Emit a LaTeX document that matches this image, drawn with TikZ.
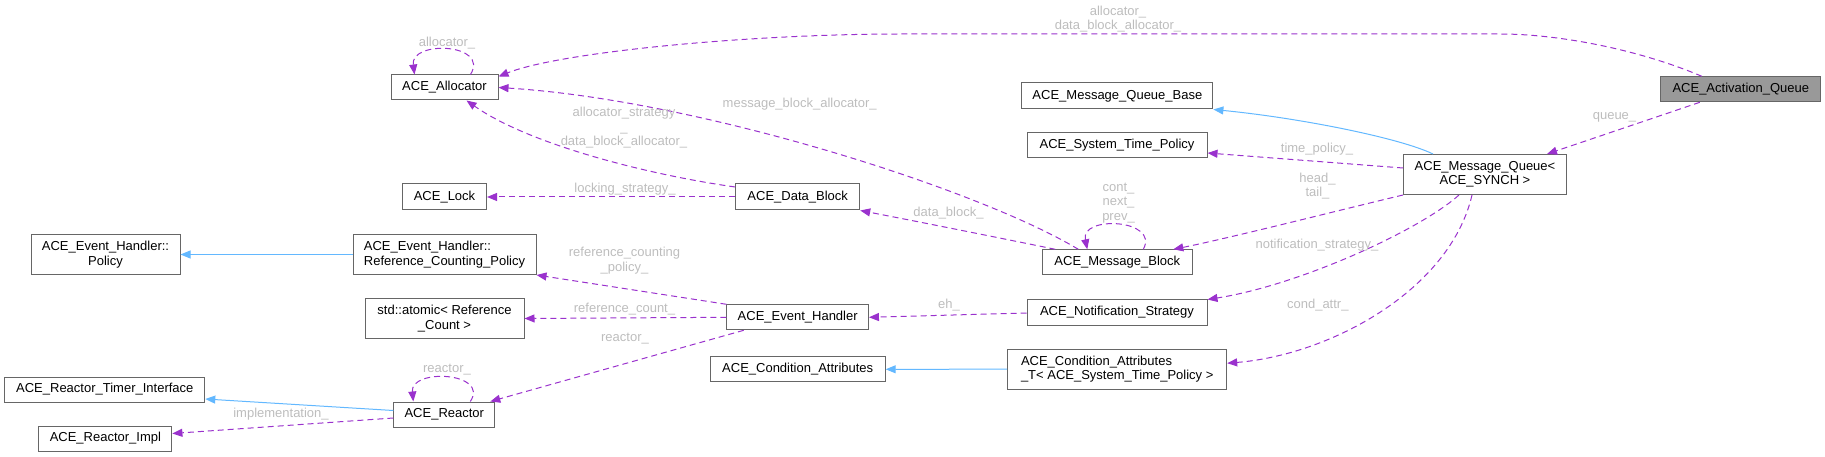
\documentclass[tikz,border=0pt]{standalone}
\usepackage{fontspec}
\setmainfont{Liberation Sans}
\usetikzlibrary{arrows.meta}
\definecolor{edgepurple}{HTML}{9A32CD}
\definecolor{edgeblue}{HTML}{63B8FF}
\definecolor{boxline}{HTML}{666666}
\definecolor{labelgray}{HTML}{BDBDBD}
\definecolor{activegray}{HTML}{999999}

\begin{document}
\begin{tikzpicture}
  [x=1pt,y=-1pt,every node/.style={font=\fontsize{13}{14.5}\selectfont,inner sep=0pt},
   cls/.style={draw=boxline,line width=1pt,fill=white,align=center,minimum height=25},
   tall/.style={cls,minimum height=40},
   lbl/.style={text=labelgray,align=center},
   member/.style={draw=edgepurple,line width=1pt,dash pattern=on 6pt off 4pt,-{Triangle[length=10pt,width=8pt]}},
   inherit/.style={draw=edgeblue,line width=1pt,-{Triangle[length=10pt,width=8pt]}}]
  \useasboundingbox (0,0) rectangle (1825,457);

  \node[cls,minimum width=107] (alloc) at (444.5,87.5) {ACE\_Allocator};
  \node[cls,minimum width=84,minimum height=26] (lock) at (444.5,197) {ACE\_Lock};
  \node[tall,minimum width=149] (policy) at (105.5,254.5) {ACE\_Event\_Handler::\\Policy};
  \node[tall,minimum width=183,align=left] (rcp) at (444.5,254.5) {ACE\_Event\_Handler::\\Reference\_Counting\_Policy};
  \node[tall,minimum width=159] (atomic) at (444.5,318.5) {std::atomic< Reference\\\_Count >};
  \node[cls,minimum width=200] (rti) at (104.8,389.5) {ACE\_Reactor\_Timer\_Interface};
  \node[cls,minimum width=101] (reactor) at (444.3,414.5) {ACE\_Reactor};
  \node[cls,minimum width=133] (impl) at (105.4,438.5) {ACE\_Reactor\_Impl};
  \node[cls,minimum width=191,minimum height=26] (mqbase) at (1117.4,96) {ACE\_Message\_Queue\_Base};
  \node[cls,minimum width=180] (stp) at (1117,145.5) {ACE\_System\_Time\_Policy};
  \node[cls,minimum width=124,minimum height=26] (dblock) at (797.7,197) {ACE\_Data\_Block};
  \node[cls,minimum width=150] (mblock) at (1117.3,262.3) {ACE\_Message\_Block};
  \node[cls,minimum width=141.5] (ehandler) at (797.7,317.3) {ACE\_Event\_Handler};
  \node[cls,minimum width=180,minimum height=26] (notify) at (1117,312) {ACE\_Notification\_Strategy};
  \node[cls,minimum width=175] (condattr) at (797.7,369.3) {ACE\_Condition\_Attributes};
  \node[tall,minimum width=219,align=left] (condattrt) at (1117.2,369.2) {ACE\_Condition\_Attributes\\\_T< ACE\_System\_Time\_Policy >};
  \node[tall,minimum width=163] (mqueue) at (1485,174.5) {ACE\_Message\_Queue<\\ACE\_SYNCH >};
  \node[cls,minimum width=160,fill=activegray] (actq) at (1740.8,89.3) {ACE\_Activation\_Queue};

  % member edges
  \draw[member] ([xshift=-39]actq.north) .. controls (1640,50) and (1560,34) .. (1500,34) -- (900,34) .. controls (750,34) and (560,52) .. ([yshift=-2]alloc.north east);
  \draw[member] ([xshift=-41]actq.south) -- ([xshift=62]mqueue.north);
  \draw[member] ([yshift=6.5]mqueue.west) -- ([yshift=-7.5]stp.east);
  \draw[member] (mqueue.south west) .. controls (1340,210) and (1230,238) .. ([xshift=56]mblock.north);
  \draw[member] ([xshift=-26]mqueue.south) .. controls (1420,230) and (1300,285) .. ([yshift=-1]notify.north east);
  \draw[member] ([xshift=-13]mqueue.south) .. controls (1450,290) and (1330,355) .. ([yshift=6]condattrt.east);
  \draw[member] ([yshift=-1]notify.west) -- (ehandler.east);
  \draw[member] ([xshift=26]mblock.north) .. controls (1160,219) and (1080,215) .. ([xshift=-30]mblock.north);
  \draw[member] ([xshift=-62]mblock.north) .. controls (1000,238) and (920,222) .. (dblock.south east);
  \draw[member] ([xshift=-39]mblock.north) .. controls (980,190) and (700,100) .. (alloc.east);
  \draw[member] ([yshift=10]dblock.west) .. controls (650,175) and (530,145) .. ([xshift=22]alloc.south);
  \draw[member] ([xshift=26]alloc.north) .. controls (490,43) and (410,40) .. ([xshift=-30]alloc.north);
  \draw[member] ([xshift=26]reactor.north) .. controls (490,372) and (410,368) .. ([xshift=-31]reactor.north);
  \draw[member] ([xshift=-54]ehandler.south) -- ([xshift=46]reactor.north);
  \draw[member] ([yshift=-3.5]reactor.west) -- ([yshift=5]impl.east);
  \foreach \from/\to in {dblock.west/lock.east,ehandler.north west/rcp.south east,ehandler.west/atomic.east}
    \draw[member] (\from) -- (\to);

  % inheritance
  \draw[inherit] ([xshift=-52]mqueue.north) .. controls (1400,138) and (1300,118) .. (mqbase.south east);
  \draw[inherit] ([yshift=4]reactor.west) -- ([yshift=-9.5]rti.east);
  \foreach \from/\to in {condattrt.west/condattr.east,rcp.west/policy.east}
    \draw[inherit] (\from) -- (\to);

  % labels
  \node[lbl] (lalloc) at (1118,19) {allocator\_\\data\_block\_allocator\_};
  \node[lbl] (lqueue) at (1614.5,117) {queue\_};
  \node[lbl] (ltime) at (1317,149) {time\_policy\_};
  \node[lbl] (lhead) at (1317.5,186) {head\_\\tail\_};
  \node[lbl] (lnotify) at (1317,245) {notification\_strategy\_};
  \node[lbl] (lcond) at (1317.8,305) {cond\_attr\_};
  \node[lbl] (leh) at (949,305) {eh\_};
  \node[lbl] (lmblock) at (1118.5,203) {cont\_\\next\_\\prev\_};
  \node[lbl] (ldata) at (948.5,213) {data\_block\_};
  \node[lbl] (lmsg) at (799.7,104) {message\_block\_allocator\_};
  \node[lbl] (lstrat) at (624,128) {allocator\_strategy\\\_\\data\_block\_allocator\_};
  \node[lbl] (llock) at (625,189) {locking\_strategy\_};
  \node[lbl] (lrcp) at (624.5,260.5) {reference\_counting\\\_policy\_};
  \node[lbl] (lcount) at (624.5,309) {reference\_count\_};
  \node[lbl] (lreactor) at (625,339) {reactor\_};
  \node[lbl] (lreactorself) at (447,370) {reactor\_};
  \node[lbl] (limpl) at (281,414) {implementation\_};
  \node[lbl] (lallocself) at (447,43) {allocator\_};
\end{tikzpicture}
\end{document}
